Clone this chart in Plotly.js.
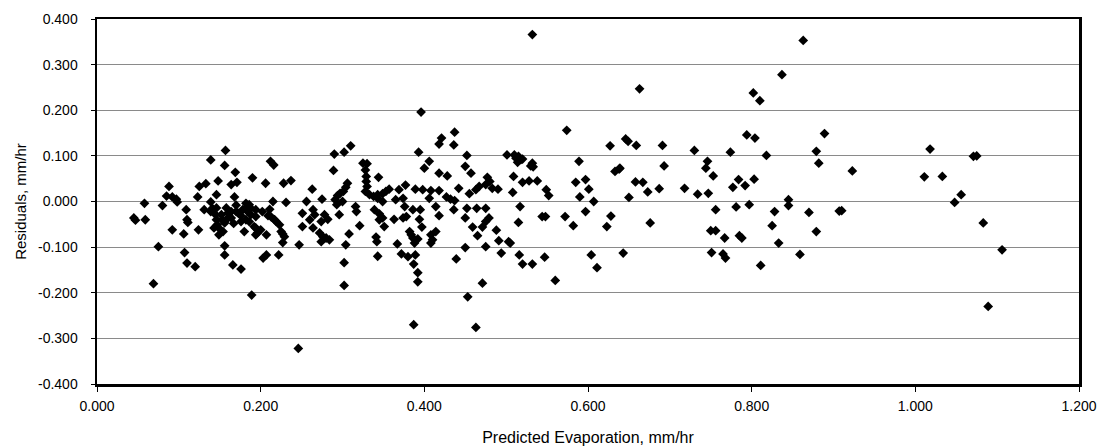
<!DOCTYPE html>
<html>
<head>
<meta charset="utf-8">
<script src="https://cdn.plot.ly/plotly-3.0.1.min.js"></script>
<style>html,body{margin:0;padding:0;background:#fff;}#chart{width:1107px;height:446px;}</style>
</head>
<body>
<div id="chart"></div>
<script>
// Axis ticks
const xTickVals = [0, 0.2, 0.4, 0.6, 0.8, 1.0, 1.2];
const xTickText = ["0.000", "0.200", "0.400", "0.600", "0.800", "1.000", "1.200"];
const yTickVals = [-0.4, -0.3, -0.2, -0.1, 0, 0.1, 0.2, 0.3, 0.4];
const yTickText = ["-0.400", "-0.300", "-0.200", "-0.100", "0.000", "0.100", "0.200", "0.300", "0.400"];

// Data (predicted evaporation, residual), grouped by x range
const xA = [0.045,0.047,0.059,0.058,0.069,0.075,0.080,0.085,0.088,0.092,0.097,0.098,0.092,0.106,0.109,0.110,0.111,0.107,0.110,0.120,0.123,0.124,0.125,0.131,0.133];
const yA = [-0.036,-0.041,-0.040,-0.004,-0.180,-0.099,-0.009,0.012,0.033,0.010,0.005,-0.001,-0.062,-0.071,-0.018,-0.040,-0.046,-0.112,-0.135,-0.143,0.010,-0.062,0.033,-0.018,0.039];

const xB = [0.139,0.139,0.139,0.148,0.146,0.157,0.156,0.169,0.190,0.164,0.171,0.168,0.182,0.186,0.156,0.156,0.166,0.176,0.189,
            0.141,0.146,0.145,0.152,0.146,0.153,0.158,0.164,0.158,0.160,0.164,0.170,0.173,0.176,0.176,0.182,0.184,0.188,0.182,0.186,
            0.147,0.143,0.150,0.154,0.149,0.180,0.192,0.194,0.156,0.167,0.170,0.178];
const yB = [0.091,-0.001,-0.022,0.045,0.015,0.112,0.079,0.064,0.052,0.037,0.042,0.010,-0.004,-0.007,-0.097,-0.117,-0.139,-0.148,-0.205,
            -0.015,-0.014,-0.029,-0.029,-0.040,-0.040,-0.014,-0.022,-0.040,-0.025,-0.036,-0.022,-0.026,-0.031,-0.044,-0.014,-0.022,-0.029,-0.040,-0.044,
            -0.051,-0.058,-0.060,-0.066,-0.073,-0.066,-0.055,-0.073,-0.047,-0.048,-0.008,-0.018];

const xC = [0.206,0.212,0.216,0.228,0.237,0.188,0.194,0.194,0.202,0.211,0.215,0.194,0.200,0.196,0.207,0.219,0.223,0.225,0.227,0.229,
            0.227,0.222,0.207,0.203,0.231,0.213,0.217,0.209,0.246];
const yC = [0.040,0.088,0.080,0.040,0.046,-0.015,-0.018,-0.033,-0.022,-0.017,0.000,-0.058,-0.062,-0.069,-0.073,-0.044,-0.051,-0.066,-0.071,-0.077,
            -0.090,-0.117,-0.117,-0.124,-0.002,-0.034,-0.040,-0.031,-0.322];

const xD = [0.251,0.264,0.266,0.260,0.251,0.264,0.278,0.282,0.274,0.272,0.276,0.280,0.284,0.274,0.247,0.256,0.263,0.275,0.289,0.290,
            0.302,0.310,0.291,0.293,0.294,0.297,0.301,0.304,0.306,0.300,0.296,0.316,0.317,0.308,0.321,0.304,0.302,0.302];
const yD = [-0.026,-0.018,-0.029,-0.040,-0.055,-0.058,-0.029,-0.039,-0.044,-0.069,-0.077,-0.080,-0.084,-0.088,-0.095,0.000,0.027,0.005,0.068,0.104,
            0.108,0.122,0.004,-0.007,0.013,0.018,0.022,0.031,0.040,0.000,-0.029,-0.011,-0.022,-0.071,-0.053,-0.095,-0.134,-0.184];

const xE = [0.325,0.330,0.328,0.329,0.329,0.330,0.328,0.333,0.338,0.343,0.341,0.342,0.343,0.344];
const yE = [0.084,0.083,0.069,0.055,0.044,0.033,0.022,0.015,0.011,0.007,-0.078,-0.088,-0.120,0.053];

const xF = [0.343,0.349,0.353,0.357,0.369,0.377,0.374,0.365,0.376,0.349,0.339,0.345,0.349,0.351,0.345,0.363,0.378,0.374,0.386,0.395,
            0.394,0.397,0.382,0.384,0.386,0.392,0.388,0.408,0.414,0.410,0.408,0.372,0.380,0.389,0.387,0.392,0.392,0.389,0.398,0.408,
            0.418,0.406,0.367,0.387];
const yF = [0.015,0.017,0.022,0.027,0.026,0.036,0.007,0.004,-0.011,0.000,-0.018,-0.027,-0.036,-0.055,-0.040,-0.039,-0.033,-0.036,-0.018,-0.018,
            -0.039,-0.056,-0.066,-0.073,-0.080,-0.082,-0.091,-0.073,-0.066,-0.084,-0.091,-0.115,-0.121,-0.117,-0.137,-0.156,-0.176,0.027,0.026,0.024,
            0.024,0.007,-0.093,-0.270];

const xG = [0.393,0.396,0.400,0.406,0.418,0.436,0.421,0.437,0.418,0.428,0.442,0.427,0.432,0.437,0.414,0.418,0.436,0.452,0.464,0.475,
            0.450,0.450,0.452,0.457,0.450,0.439,0.475,0.471,0.453,0.463,0.477,0.480,0.475,0.467,0.463,0.455,0.475,0.479,0.471,0.488,
            0.459,0.465,0.483,0.490];
const yG = [0.108,0.196,0.073,0.088,0.126,0.124,0.139,0.152,0.062,0.056,0.029,0.010,0.005,0.002,-0.011,-0.031,-0.018,-0.015,-0.015,-0.015,
            -0.036,0.077,0.101,0.062,-0.101,-0.126,-0.099,-0.179,-0.209,-0.276,0.053,0.044,0.037,0.033,0.026,0.017,-0.044,-0.036,-0.056,-0.063,
            -0.056,-0.075,0.029,0.027];

const xH = [0.501,0.510,0.515,0.518,0.514,0.520,0.512,0.532,0.533,0.530,0.509,0.520,0.528,0.538,0.508,0.549,0.552,0.585,0.597,0.601,
            0.590,0.607,0.517,0.544,0.548,0.572,0.597,0.515,0.582,0.628,0.623,0.491,0.503,0.505,0.494,0.516,0.520,0.532,0.547,0.604,
            0.611,0.560,0.589,0.627,0.532,0.574];
const yH = [0.102,0.102,0.099,0.092,0.086,0.093,0.095,0.084,0.076,0.078,0.055,0.042,0.045,0.045,0.020,0.026,0.013,0.042,0.048,0.027,
            0.010,0.000,-0.011,-0.033,-0.033,-0.033,-0.022,-0.046,-0.053,-0.032,-0.055,-0.086,-0.088,-0.091,-0.113,-0.117,-0.137,-0.137,-0.122,-0.117,
            -0.145,-0.173,0.088,0.122,0.366,0.156];

const xI = [0.633,0.638,0.639,0.646,0.649,0.659,0.691,0.663,0.730,0.746,0.744,0.753,0.693,0.658,0.667,0.673,0.687,0.718,0.734,0.747,
            0.774,0.777,0.784,0.792,0.803,0.818,0.794,0.804,0.802,0.810,0.837,0.863,0.889,0.650,0.845,0.845,0.756,0.781,0.797,0.828,
            0.676,0.825,0.750,0.756,0.767,0.785,0.788,0.833,0.643,0.751,0.765,0.768,0.811,0.859,0.879,0.882,0.923,1.018,1.011,1.033,
            1.071,1.075,1.056,1.048,0.870,0.907,0.910,0.879,1.083,1.106,1.089];
const yI = [0.066,0.071,0.073,0.137,0.132,0.123,0.123,0.247,0.112,0.088,0.073,0.056,0.078,0.043,0.042,0.021,0.028,0.029,0.016,0.018,
            0.108,0.031,0.048,0.035,0.049,0.101,0.146,0.139,0.238,0.221,0.278,0.353,0.149,0.009,0.004,-0.009,-0.018,-0.012,-0.007,-0.022,
            -0.047,-0.053,-0.064,-0.064,-0.080,-0.075,-0.080,-0.091,-0.113,-0.112,-0.115,-0.124,-0.140,-0.116,0.110,0.084,0.067,0.115,0.054,0.055,
            0.099,0.100,0.015,-0.002,-0.024,-0.021,-0.020,-0.066,-0.047,-0.106,-0.230];

const predicted = [].concat(xA, xB, xC, xD, xE, xF, xG, xH, xI);
const residuals = [].concat(yA, yB, yC, yD, yE, yF, yG, yH, yI);

const trace = {
  type: 'scatter',
  mode: 'markers',
  x: predicted,
  y: residuals,
  marker: {symbol: 'diamond', size: 7.5, color: '#000', line: {width: 0}},
  hoverinfo: 'x+y'
};

const fontFam = '"Liberation Sans", Arial, Helvetica, sans-serif';

const layout = {
  width: 1107,
  height: 446,
  margin: {l: 97, r: 28, t: 19, b: 62},
  paper_bgcolor: '#ffffff',
  plot_bgcolor: '#ffffff',
  showlegend: false,
  font: {family: fontFam, color: '#000', size: 14},
  xaxis: {
    range: [0, 1.2],
    tickmode: 'array',
    tickvals: xTickVals,
    ticktext: xTickText,
    ticks: 'outside',
    ticklen: 5,
    tickwidth: 1,
    tickcolor: '#000',
    tickfont: {size: 14, family: fontFam, color: '#000'},
    ticklabelstandoff: 3,
    showgrid: false,
    zeroline: false,
    showline: true,
    linecolor: '#000',
    linewidth: 2.5,
    mirror: true,
    title: {text: 'Predicted Evaporation, mm/hr', font: {size: 16, family: fontFam, color: '#000'}, standoff: 19}
  },
  yaxis: {
    range: [-0.4, 0.4],
    tickmode: 'array',
    tickvals: yTickVals,
    ticktext: yTickText,
    ticks: 'outside',
    ticklen: 4,
    tickwidth: 1,
    tickcolor: '#000',
    tickfont: {size: 14, family: fontFam, color: '#000'},
    ticklabelstandoff: 10,
    showgrid: true,
    gridcolor: '#8a8a8a',
    gridwidth: 1,
    zeroline: false,
    showline: true,
    linecolor: '#000',
    linewidth: 2.5,
    mirror: true,
    title: {text: 'Residuals, mm/hr', font: {size: 15, family: fontFam, color: '#000'}, standoff: 8}
  }
};

Plotly.newPlot('chart', [trace], layout, {staticPlot: true, displayModeBar: false});
</script>
</body>
</html>
